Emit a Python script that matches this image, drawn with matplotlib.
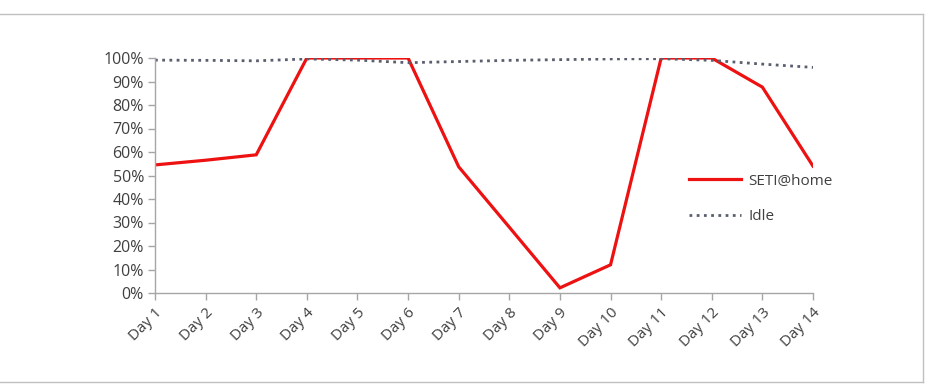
import matplotlib
matplotlib.use("Agg")
import matplotlib.pyplot as plt
from matplotlib.lines import Line2D

days = ["Day 1", "Day 2", "Day 3", "Day 4", "Day 5", "Day 6", "Day 7",
        "Day 8", "Day 9", "Day 10", "Day 11", "Day 12", "Day 13", "Day 14"]
seti = [54.5, 56.5, 58.8, 100, 100, 100, 53.7, 28, 2.2, 12, 100, 100, 87.6, 54]
idle = [99.1, 99.0, 98.8, 99.6, 99.1, 98.0, 98.5, 99.0, 99.3, 99.6, 99.7, 99.0, 97.4, 96.0]
yticks = [0, 10, 20, 30, 40, 50, 60, 70, 80, 90, 100]

plt.rcParams['font.family'] = ['Open Sans', 'DejaVu Sans']

fig = plt.figure(figsize=(9.27, 3.86), dpi=100)
ax = fig.add_axes([155/927, 1-293/386, (813-155)/927, (293-58)/386])

x = list(range(len(days)))
ax.plot(x, seti, color='#ee1111', lw=2.3, label='SETI@home', solid_joinstyle='miter')
ax.plot(x, idle, color='#5a5f6e', lw=2.0, linestyle=(0, (1, 1.6)), label='Idle')

ax.set_xlim(0, len(days)-1)
ax.set_ylim(0, 100)
ax.set_xticks(x)
ax.set_xticklabels(days, rotation=45, ha='right', rotation_mode='anchor', fontsize=11, color='#404040')
ax.set_yticks(yticks)
ax.set_yticklabels([f"{v}%" for v in yticks], fontsize=11.5, color='#404040')
for s in ['top', 'right']:
    ax.spines[s].set_visible(False)
for s in ['left', 'bottom']:
    ax.spines[s].set_color('#a6a6a6')
    ax.spines[s].set_linewidth(1.0)
ax.tick_params(axis='both', direction='out', length=5, color='#a6a6a6', width=1.0)
ax.tick_params(axis='x', pad=4)
ax.tick_params(axis='y', pad=3)

leg = fig.legend(loc='upper left', bbox_to_anchor=(675/927, 1-160/386), frameon=False,
                 fontsize=11, handlelength=3.4, labelspacing=1.35, handletextpad=0.5)
for t in leg.get_texts():
    t.set_color('#404040')

# outer border (top, right, bottom)
col = '#c0c0c0'
fig.add_artist(Line2D([0, 923/927], [1-14/386, 1-14/386], color=col, lw=1, transform=fig.transFigure))
fig.add_artist(Line2D([923/927, 923/927], [1-14/386, 1-382/386], color=col, lw=1, transform=fig.transFigure))
fig.add_artist(Line2D([0, 923/927], [1-382/386, 1-382/386], color=col, lw=1, transform=fig.transFigure))

fig.savefig("out.png", dpi=100)
